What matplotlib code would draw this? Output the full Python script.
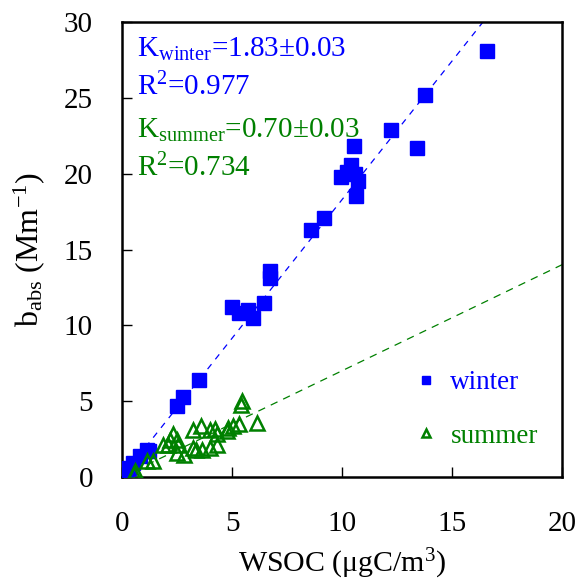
import numpy as np
import matplotlib
matplotlib.use("Agg")
import matplotlib.pyplot as plt

plt.rcParams['font.family'] = ['Liberation Serif', 'DejaVu Serif']
plt.rcParams['mathtext.fontset'] = 'custom'
plt.rcParams['mathtext.rm'] = 'Liberation Serif'
plt.rcParams['mathtext.it'] = 'Liberation Serif:italic'

# winter samples (WSOC, b_abs)
wsoc_winter = [16.58, 13.76, 12.2, 13.4, 10.56, 10.4, 10.2, 9.95, 10.6, 10.74,
               10.64, 9.18, 8.6, 6.7, 6.7, 6.47, 4.98, 5.33, 5.74, 5.94,
               3.51, 2.76, 2.49, 1.20, 0.82, 0.51, 0.33, 0.2, 1.12]
babs_winter = [28.1, 25.2, 22.9, 21.7, 21.8, 20.6, 20.1, 19.8, 20.0, 19.5,
               18.5, 17.1, 16.3, 13.6, 13.1, 11.5, 11.2, 10.8, 11.0, 10.5,
               6.4, 5.25, 4.64, 1.67, 1.4, 0.9, 0.57, 0.4, 1.8]

# summer samples
wsoc_summer = [5.44, 5.40, 6.12, 5.29, 5.06, 4.83, 4.76, 4.23, 4.30, 4.0,
               3.58, 3.21, 2.33, 2.49, 2.56, 2.1, 1.88, 2.49, 2.82, 3.24,
               3.36, 3.62, 4.0, 4.33, 1.42, 1.12, 0.59, 0.55, 2.18]
babs_summer = [4.97, 4.75, 3.58, 3.49, 3.32, 3.2, 2.99, 3.16, 2.83, 3.1,
               3.32, 3.1, 2.83, 2.44, 2.11, 2.07, 2.07, 1.56, 1.41, 1.89,
               1.78, 1.78, 1.89, 2.07, 1.01, 1.01, 0.35, 0.2, 2.4]

k_winter = 1.83
k_summer = 0.70

blue = '#0000FF'
green = '#008000'

fig = plt.figure(figsize=(5.76, 5.85), dpi=100)
ax = fig.add_axes([0.212, 0.185, 0.764, 0.777])

xfit = np.array([0, 20])
ax.plot(xfit, k_winter * xfit, color=blue, lw=0.9, dashes=(5, 5))
ax.plot(xfit, k_summer * xfit, color=green, lw=0.9, dashes=(6, 5))

ax.plot(wsoc_winter, babs_winter, 's', color=blue, ms=10, mec=blue, label='winter', zorder=3)
ax.plot(wsoc_summer, babs_summer, '^', mfc='none', mec=green, mew=1.8, ms=10,
        label='summer', zorder=4)

ax.set_xlim(0, 20)
ax.set_ylim(0, 30)
ax.set_xticks([0, 5, 10, 15, 20])
ax.set_yticks([0, 5, 10, 15, 20, 25, 30])
ax.tick_params(direction='in', length=7, width=1, labelsize=21)
ax.tick_params(axis='y', pad=21)
ax.tick_params(axis='x', pad=25)
for sp in ax.spines.values():
    sp.set_linewidth(1.8)

ax.set_xlabel(r'WSOC ($\mathregular{\mu}$gC/m$^{\mathregular{3}}$)', fontsize=21.5, labelpad=7)
ax.set_ylabel(r'b$_{\mathregular{abs}}$ (Mm$^{\mathregular{-1}}$)', fontsize=23, labelpad=12)

ax.text(0.68, 27.7, r'K$_{\mathregular{winter}}$=1.83±0.03', color=blue, fontsize=21)
ax.text(0.68, 25.2, r'R$^{\mathregular{2}}$=0.977', color=blue, fontsize=21)
ax.text(0.68, 22.4, r'K$_{\mathregular{summer}}$=0.70±0.03', color=green, fontsize=21)
ax.text(0.68, 19.85, r'R$^{\mathregular{2}}$=0.734', color=green, fontsize=21)

leg = ax.legend(loc='lower right', bbox_to_anchor=(1.0, 0.008), frameon=False,
                fontsize=19.5, markerscale=0.6, handlelength=0.6, handletextpad=0.6,
                labelspacing=1.05, labelcolor='markeredgecolor')

fig.savefig('out.png', dpi=100)
